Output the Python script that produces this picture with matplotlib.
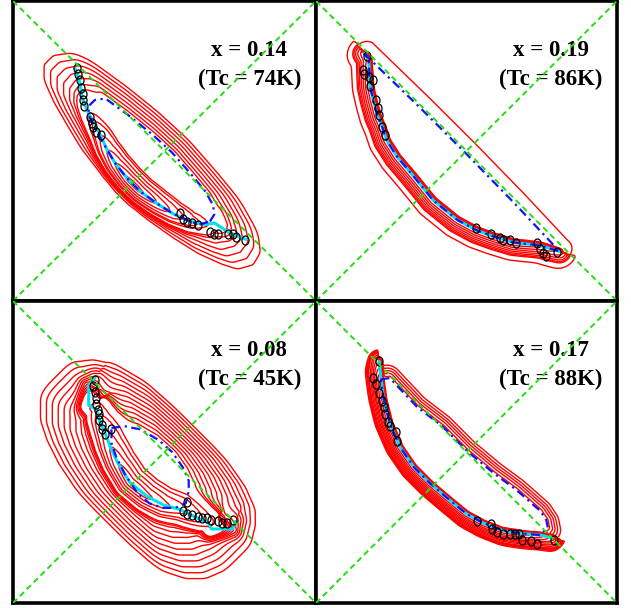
import numpy as np
import matplotlib
matplotlib.use("Agg")
import matplotlib.pyplot as plt
from matplotlib.path import Path

# panel labels (top-left, top-right, bottom-left, bottom-right)
dopings = ["x = 0.14", "x = 0.19", "x = 0.08", "x = 0.17"]
tcs = ["(Tc = 74K)", "(Tc = 86K)", "(Tc = 45K)", "(Tc = 88K)"]

# ---- x = 0.14 ----
arc14_x = [-0.59, -0.56, -0.54, -0.50, -0.42, -0.38, -0.32, -0.24, -0.16, -0.05, 0.06, 0.17, 0.27, 0.33, 0.42, 0.54]
arc14_y = [0.55, 0.46, 0.34, 0.25, 0.10, 0.01, -0.09, -0.19, -0.27, -0.35, -0.42, -0.47, -0.49, -0.48, -0.54, -0.59]
kf14_x = [-0.58, -0.57, -0.56, -0.55, -0.54, -0.54, -0.53, -0.49, -0.48, -0.47, -0.45, -0.42,
          0.10, 0.12, 0.15, 0.18, 0.22, 0.30, 0.33, 0.35, 0.42, 0.45, 0.47, 0.53]
kf14_y = [0.55, 0.51, 0.47, 0.42, 0.38, 0.34, 0.30, 0.23, 0.19, 0.16, 0.13, 0.11,
          -0.41, -0.45, -0.47, -0.48, -0.49, -0.54, -0.55, -0.55, -0.55, -0.55, -0.57, -0.59]
fs14_x = [0.30, 0.33, 0.32, 0.27, 0.18, 0.05, -0.08, -0.24, -0.39, -0.46, -0.50, -0.50, -0.46, -0.38,
          -0.32, -0.24, -0.16, -0.05, 0.06, 0.17, 0.23, 0.30]
fs14_y = [-0.47, -0.42, -0.36, -0.27, -0.16, -0.01, 0.11, 0.24, 0.35, 0.34, 0.30, 0.24, 0.15, 0.01,
          -0.09, -0.19, -0.27, -0.35, -0.42, -0.47, -0.49, -0.47]
levels14 = [0.04, 0.18, 0.32, 0.46, 0.6, 0.74, 0.87, 1.66, 2.2, 3.7, 5.9, 8.4, 10.4]

# ---- x = 0.19 ----
arc19_x = [-0.68, -0.65, -0.64, -0.62, -0.59, -0.56, -0.53, -0.46, -0.35, -0.22, -0.06, 0.07, 0.18, 0.31, 0.49, 0.62]
arc19_y = [0.65, 0.61, 0.43, 0.34, 0.23, 0.16, 0.07, -0.04, -0.17, -0.33, -0.46, -0.53, -0.57, -0.61, -0.63, -0.67]
kf19_x = [-0.66, -0.69, -0.68, -0.65, -0.62, -0.64, -0.60, -0.59, -0.58, -0.56, -0.54,
          0.06, 0.16, 0.22, 0.24, 0.29, 0.33, 0.47, 0.49, 0.51, 0.53, 0.60]
kf19_y = [0.63, 0.54, 0.51, 0.49, 0.47, 0.43, 0.34, 0.29, 0.24, 0.16, 0.11,
          -0.51, -0.55, -0.58, -0.59, -0.59, -0.61, -0.61, -0.65, -0.68, -0.70, -0.67]
fs19_x = [-0.68, -0.65, -0.31, 0.00, 0.32, 0.60, 0.62, 0.49, 0.31, 0.18, 0.07, -0.06, -0.22, -0.35,
          -0.46, -0.53, -0.56, -0.59, -0.62, -0.64, -0.65, -0.68]
fs19_y = [0.65, 0.62, 0.29, -0.02, -0.35, -0.65, -0.67, -0.63, -0.61, -0.57, -0.53, -0.46, -0.33, -0.17,
          -0.04, 0.07, 0.16, 0.23, 0.34, 0.43, 0.61, 0.65]
levels19 = [0.25, 0.68, 0.82, 1.03, 1.31, 1.64, 1.98, 2.27]

# ---- x = 0.08 ----
arc08_x = [-0.46, -0.50, -0.50, -0.45, -0.43, -0.39, -0.36, -0.31, -0.23, -0.12, -0.01, 0.10, 0.20, 0.29, 0.31, 0.45, 0.47]
arc08_y = [0.49, 0.44, 0.31, 0.28, 0.21, 0.12, 0.04, -0.07, -0.20, -0.29, -0.35, -0.38, -0.43, -0.47, -0.51, -0.51, -0.46]
kf08_x = [-0.46, -0.47, -0.46, -0.45, -0.45, -0.44, -0.43, -0.43, -0.41, -0.41, -0.39, -0.35,
          0.15, 0.12, 0.15, 0.18, 0.22, 0.25, 0.28, 0.31, 0.35, 0.38, 0.41, 0.45]
kf08_y = [0.48, 0.44, 0.40, 0.36, 0.32, 0.28, 0.25, 0.21, 0.18, 0.15, 0.12, 0.15,
          -0.33, -0.39, -0.41, -0.42, -0.43, -0.44, -0.44, -0.45, -0.46, -0.47, -0.47, -0.45]
fs08_x = [-0.35, -0.26, -0.16, -0.04, 0.05, 0.12, 0.16, 0.16, 0.14, 0.07, -0.01, -0.10, -0.18, -0.26,
          -0.32, -0.35, -0.35]
fs08_y = [0.16, 0.17, 0.15, 0.08, 0.00, -0.10, -0.19, -0.26, -0.34, -0.37, -0.37, -0.34, -0.27, -0.15,
          -0.03, 0.06, 0.16]
levels08 = [0.04, 0.12, 0.2, 0.28, 0.36, 0.44, 0.52, 0.6, 0.68, 0.76, 0.84, 0.92, 1.7, 2.6, 4.5, 7.0, 9.5]

# ---- x = 0.17 ----
arc17_x = [-0.58, -0.57, -0.55, -0.51, -0.44, -0.35, -0.24, -0.11, 0.00, 0.11, 0.24, 0.37, 0.49, 0.57]
arc17_y = [0.60, 0.50, 0.35, 0.19, 0.03, -0.10, -0.21, -0.32, -0.41, -0.47, -0.52, -0.54, -0.55, -0.57]
kf17_x = [-0.58, -0.62, -0.60, -0.58, -0.56, -0.55, -0.54, -0.52, -0.51, -0.47, -0.46,
          0.07, 0.16, 0.17, 0.20, 0.24, 0.29, 0.32, 0.35, 0.37, 0.43, 0.47, 0.58]
kf17_y = [0.60, 0.49, 0.45, 0.39, 0.34, 0.30, 0.25, 0.20, 0.17, 0.13, 0.07,
          -0.46, -0.48, -0.51, -0.53, -0.54, -0.54, -0.54, -0.54, -0.58, -0.59, -0.61, -0.58]
fs17_x = [-0.57, -0.51, -0.33, -0.16, 0.00, 0.18, 0.33, 0.49, 0.53, 0.54, 0.49, 0.37, 0.24, 0.11,
          0.00, -0.11, -0.24, -0.35, -0.44, -0.51, -0.55, -0.57]
fs17_y = [0.48, 0.49, 0.30, 0.17, 0.01, -0.14, -0.25, -0.39, -0.45, -0.50, -0.55, -0.54, -0.52, -0.47,
          -0.41, -0.32, -0.21, -0.10, 0.03, 0.19, 0.35, 0.48]
levels17 = [0.25, 0.33, 0.4, 0.47, 0.55, 0.75, 0.95, 1.2, 1.45, 1.75, 2.05, 2.35]

# spectral-weight model per panel: flat weight inside the FS that fades over
# (ru along the zone diagonal, rup / rdn across it), plus a ridge along the arc
model14 = dict(P=1.0, ru=0.42, rup=0.14, rdn=0.11, q=2, A=10.0, s0=0.51, ls=0.2, ps=2, w_in=0.065, w_out=0.05)
model19 = dict(P=0.5, ru=0.14, rup=0.18, rdn=0.18, q=2, A=2.0, s0=0.5, ls=0.55, ps=10, w_in=0.015, w_out=0.07)
model08 = dict(P=1.0, ru=0.52, rup=0.23, rdn=0.29, q=4, A=10.0, s0=0.5, ls=0.25, ps=2, w_in=0.08, w_out=0.055)
model17 = dict(P=0.6, ru=0.16, rup=0.13, rdn=0.1, q=2, A=2.0, s0=0.5, ls=0.55, ps=8, w_in=0.012, w_out=0.06)

panels = [
    (arc14_x, arc14_y, kf14_x, kf14_y, fs14_x, fs14_y, levels14, model14),
    (arc19_x, arc19_y, kf19_x, kf19_y, fs19_x, fs19_y, levels19, model19),
    (arc08_x, arc08_y, kf08_x, kf08_y, fs08_x, fs08_y, levels08, model08),
    (arc17_x, arc17_y, kf17_x, kf17_y, fs17_x, fs17_y, levels17, model17),
]

# axes boxes in pixels: left, right, top, bottom
boxes = [(13, 316, 1, 301), (316, 617, 1, 301), (13, 316, 301, 603), (316, 617, 301, 603)]

SQ2 = np.sqrt(2.0)
grid = np.linspace(-1, 1, 241)
gx, gy = np.meshgrid(grid, grid)
gu = (gx - gy) / SQ2
gv = (gx + gy) / SQ2


def densify(xs, ys, step=0.008):
    px, py = [], []
    for i in range(len(xs) - 1):
        n = max(int(np.hypot(xs[i + 1] - xs[i], ys[i + 1] - ys[i]) / step), 1)
        t = np.linspace(0, 1, n, endpoint=False)
        px.append(xs[i] + t * (xs[i + 1] - xs[i]))
        py.append(ys[i] + t * (ys[i + 1] - ys[i]))
    px.append([xs[-1]])
    py.append([ys[-1]])
    return np.concatenate(px), np.concatenate(py)


def intensity(arc_x, arc_y, fs_x, fs_y, m):
    # plateau: fades with an anisotropic distance from the FS region
    fx, fy = densify(fs_x, fs_y)
    dist = np.full(gx.shape, np.inf)
    q = m["q"]
    for a, b in zip((fx - fy) / SQ2, (fx + fy) / SQ2):
        dv = gv - b
        rv = np.where(dv > 0, m["rup"], m["rdn"])
        d = ((np.abs(gu - a) / m["ru"]) ** q + np.abs(dv / rv) ** q) ** (1.0 / q)
        np.minimum(dist, d, out=dist)
    pts = np.column_stack([gx.ravel(), gy.ravel()])
    inside = Path(np.column_stack([fs_x, fs_y])).contains_points(pts).reshape(gx.shape)
    dist[inside] = 0
    plateau = m["P"] * np.clip(1 - dist, 0, None)

    # ridge: strongest near the node, following the measured arc
    ax_, ay_ = densify(arc_x, arc_y)
    best = np.full(gx.shape, np.inf)
    idx = np.zeros(gx.shape, dtype=int)
    for k in range(len(ax_)):
        d2 = (gx - ax_[k]) ** 2 + (gy - ay_[k]) ** 2
        mask = d2 < best
        best[mask] = d2[mask]
        idx[mask] = k
    cum = np.concatenate([[0], np.cumsum(np.hypot(np.diff(ax_), np.diff(ay_)))])
    s = cum[idx] / cum[-1]
    tx, ty = np.gradient(ax_), np.gradient(ay_)
    side = (gx - ax_[idx]) * (-ty[idx]) + (gy - ay_[idx]) * tx[idx]
    w = np.where(side > 0, m["w_in"], m["w_out"])
    ridge = m["A"] * np.exp(-(np.abs(s - m["s0"]) / m["ls"]) ** m["ps"] - best / w ** 2)
    return plateau + ridge


W, H = 631, 608
fig = plt.figure(figsize=(W / 100, H / 100), dpi=100)

# slightly oval open circles for the k_F points
circ = Path.unit_circle()
oval = Path(circ.vertices * np.array([0.78, 1.0]), circ.codes)

for i, (arc_x, arc_y, kf_x, kf_y, fs_x, fs_y, levels, m) in enumerate(panels):
    x0, x1, y0, y1 = boxes[i]
    ax = fig.add_axes([x0 / W, 1 - y1 / H, (x1 - x0) / W, (y1 - y0) / H])
    ax.set_xlim(-1, 1)
    ax.set_ylim(-1, 1)
    ax.set_xticks([])
    ax.set_yticks([])
    for sp in ax.spines.values():
        sp.set_linewidth(2.6)
        sp.set_color("black")

    field = intensity(arc_x, arc_y, fs_x, fs_y, m)
    ax.contour(gx, gy, field, levels=levels, colors="#ff0000", linewidths=1.0, zorder=1)

    ax.plot(arc_x, arc_y, color="#00e0f0", lw=2.2, solid_capstyle="round", zorder=2)
    ax.plot(fs_x, fs_y, color="#1010ff", lw=1.6, ls=(0, (4, 2, 1, 2)), zorder=3)
    ax.plot(kf_x, kf_y, ls="none", marker=oval, ms=6.5, mfc="none", mec="black", mew=0.9, zorder=4)

    ax.text(0.78, 0.835, dopings[i], transform=ax.transAxes, ha="center", va="center",
            fontsize=16.5, fontweight="bold", family="Liberation Serif", zorder=5)
    ax.text(0.78, 0.74, tcs[i], transform=ax.transAxes, ha="center", va="center",
            fontsize=16.5, fontweight="bold", family="Liberation Serif", zorder=5)

    ax.plot([-1, 1], [-1, 1], color="#22dd11", lw=1.4, ls=(0, (3, 2)), zorder=6)
    ax.plot([-1, 1], [1, -1], color="#22dd11", lw=1.4, ls=(0, (3, 2)), zorder=6)

fig.savefig("out.png", dpi=100)
